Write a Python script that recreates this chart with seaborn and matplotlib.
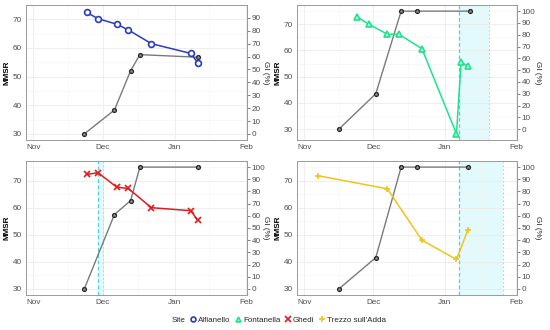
import numpy as np
import pandas as pd
import matplotlib
matplotlib.use("Agg")
import matplotlib.pyplot as plt
from matplotlib.lines import Line2D
import seaborn as sns

sns.set_theme(style="white")
plt.rcParams['font.family'] = ['Liberation Sans', 'DejaVu Sans']

# ---------------- data ----------------
sites = ["Alfianello", "Fontanella", "Ghedi", "Trezzo sull'Adda"]
colors = ["#2a3bc0", "#1ee38c", "#e41a1c", "#f0c419"]
markers = ["o", "^", "x", "+"]

alf_mmsr_dates = ["2019-11-24", "2019-11-29", "2019-12-07", "2019-12-12", "2019-12-22", "2020-01-08", "2020-01-11"]
alf_mmsr = [72.4, 70.2, 68.3, 66.3, 61.5, 58.1, 54.8]
alf_gi_dates = ["2019-11-23", "2019-12-06", "2019-12-13", "2019-12-17", "2020-01-11"]
alf_gi = [0, 18.5, 49, 61.5, 59.5]

fon_mmsr_dates = ["2019-11-24", "2019-11-29", "2019-12-07", "2019-12-12", "2019-12-22", "2020-01-06", "2020-01-08", "2020-01-11"]
fon_mmsr = [72.8, 70.0, 66.2, 66.2, 60.7, 28.2, 55.6, 54.0]
fon_gi_dates = ["2019-11-16", "2019-12-02", "2019-12-13", "2019-12-20", "2020-01-12"]
fon_gi = [0, 30, 100, 100, 100]

ghe_mmsr_dates = ["2019-11-24", "2019-11-29", "2019-12-07", "2019-12-12", "2019-12-22", "2020-01-08", "2020-01-11"]
ghe_mmsr = [72.3, 72.9, 67.6, 67.1, 60.0, 58.9, 55.3]
ghe_gi_dates = ["2019-11-23", "2019-12-06", "2019-12-13", "2019-12-17", "2020-01-11"]
ghe_gi = [0, 61, 72.5, 100, 100]

tre_mmsr_dates = ["2019-11-07", "2019-12-07", "2019-12-22", "2020-01-06", "2020-01-11"]
tre_mmsr = [71.8, 67.0, 48.0, 40.9, 51.9]
tre_gi_dates = ["2019-11-16", "2019-12-02", "2019-12-13", "2019-12-20", "2020-01-11"]
tre_gi = [0, 25.7, 100, 100, 100]

# shaded periods (start, end) per site
shade = [None, ("2020-01-07", "2020-01-20"), ("2019-11-29", "2019-12-01"), ("2020-01-07", "2020-01-26")]

mmsr_dates = [alf_mmsr_dates, fon_mmsr_dates, ghe_mmsr_dates, tre_mmsr_dates]
mmsr_vals = [alf_mmsr, fon_mmsr, ghe_mmsr, tre_mmsr]
gi_dates = [alf_gi_dates, fon_gi_dates, ghe_gi_dates, tre_gi_dates]
gi_vals = [alf_gi, fon_gi, ghe_gi, tre_gi]

x_ticks = ["2019-11-01", "2019-12-01", "2020-01-01", "2020-02-01"]
x_tick_labels = ["Nov", "Dec", "Jan", "Feb"]
gi_ticks = list(range(0, 101, 10))

def gi_to_mmsr(g):
    return 30 + np.asarray(g) * 45.0 / 100.0

def mmsr_to_gi(m):
    return (np.asarray(m) - 30) * 100.0 / 45.0

# ---------------- figure ----------------
W, H = 550, 330
fig = plt.figure(figsize=(5.5, 3.3), dpi=100)
boxes = [(26, 5, 247, 140), (297, 5, 517, 140), (26, 161, 247, 295), (297, 161, 517, 295)]

tick_color = "#4d4d4d"
xlim = (pd.Timestamp("2019-10-28 20:00"), pd.Timestamp("2020-02-01 06:00"))
fs = 5.9

for i in range(4):
    l, t, r, b = boxes[i]
    ax = fig.add_axes([l / W, 1 - b / H, (r - l) / W, (b - t) / H])
    ax.set_facecolor("white")

    # shaded period
    if shade[i] is not None:
        s0, s1 = pd.Timestamp(shade[i][0]), pd.Timestamp(shade[i][1])
        ax.axvspan(s0, s1, color="#e3fafd", zorder=0, lw=0)
        ax.axvline(s0, color="#4dd0e1", ls=(0, (3, 2)), lw=0.9, zorder=1)
        ax.axvline(s1, color="#9be4ee", ls=(0, (2, 2)), lw=0.7, zorder=1)

    # GI series (gray)
    dfg = pd.DataFrame({"date": pd.to_datetime(gi_dates[i]), "y": gi_to_mmsr(gi_vals[i])})
    sns.lineplot(data=dfg, x="date", y="y", ax=ax, color="#7a7a7a", lw=1.0, zorder=3)
    ax.scatter(dfg["date"], dfg["y"], s=14, color="#222222", zorder=4, lw=0)
    ax.scatter(dfg["date"], dfg["y"], s=10, marker="*", color="#9a9a9a", zorder=5, lw=0)

    # MMSR series (colored)
    dfm = pd.DataFrame({"date": pd.to_datetime(mmsr_dates[i]), "y": mmsr_vals[i]})
    sns.lineplot(data=dfm, x="date", y="y", ax=ax, color=colors[i], lw=1.1, zorder=6)
    if markers[i] in ("o", "^"):
        ax.plot(dfm["date"], dfm["y"], ls="none", marker=markers[i], ms=4.2,
                mfc="white" if markers[i] == "o" else "#bdf5dc", mec=colors[i], mew=1.2, zorder=7)
    else:
        ax.plot(dfm["date"], dfm["y"], ls="none", marker=markers[i], ms=5, mec=colors[i], mew=1.2, zorder=7)

    # y limits (ggplot-style expansion)
    allv = list(mmsr_vals[i]) + list(gi_to_mmsr(gi_vals[i]))
    lo, hi = min(allv), max(allv)
    pad = (hi - lo) * 0.05
    ax.set_ylim(lo - pad, hi + pad)
    ax.set_xlim(*xlim)

    ax.set_xticks(pd.to_datetime(x_ticks))
    ax.set_xticklabels(x_tick_labels)
    ax.set_xticks(pd.to_datetime(["2019-11-16", "2019-12-16", "2020-01-16"]), minor=True)
    ax.set_yticks([30, 40, 50, 60, 70])
    ax.set_yticks([35, 45, 55, 65, 75], minor=True)
    ax.grid(which="major", color="#ebebeb", lw=0.6, zorder=0)
    ax.grid(which="minor", color="#f3f3f3", lw=0.4, zorder=0)
    ax.set_axisbelow(True)

    ax.tick_params(axis="both", which="major", labelsize=fs, colors=tick_color, length=2, width=0.5, pad=1.2)
    ax.tick_params(axis="both", which="minor", length=0)
    ax.set_xlabel("")
    ax.set_ylabel("")

    for sp in ax.spines.values():
        sp.set_color("#9a9a9a")
        sp.set_linewidth(0.7)

    sec = ax.secondary_yaxis("right", functions=(mmsr_to_gi, gi_to_mmsr))
    sec.set_yticks([g for g in gi_ticks if gi_to_mmsr(g) <= hi + pad])
    sec.tick_params(labelsize=fs, colors=tick_color, length=2, width=0.5, pad=1.2)
    sec.spines["right"].set_color("#9a9a9a")
    sec.spines["right"].set_linewidth(0.7)

    yc = 1 - (t + b) / 2 / H
    mmsr_x = 7 if l < 100 else 278
    gi_x = 266 if l < 100 else 538
    fig.text(mmsr_x / W, yc, "MMSR", rotation=90, ha="center", va="center",
             fontsize=fs, fontweight="bold", color="black")
    fig.text(gi_x / W, yc, "GI (%)", rotation=270, ha="center", va="center",
             fontsize=fs, color="#222222")

# legend
handles = [Line2D([], [], ls="none", marker="", label="Site")]
for c, m, s in zip(colors, markers, sites):
    if m == "o":
        h = Line2D([], [], ls="none", marker=m, ms=3.5, mfc="white", mec=c, mew=1.2, label=s)
    elif m == "^":
        h = Line2D([], [], ls="none", marker=m, ms=3.5, mfc="#bdf5dc", mec=c, mew=1.2, label=s)
    else:
        h = Line2D([], [], ls="none", marker=m, ms=4.5, mec=c, mew=1.2, label=s)
    handles.append(h)
fig.legend(handles=handles, loc="center", bbox_to_anchor=(275 / W, 1 - 320 / H), ncol=5,
           frameon=False, fontsize=5.8, handlelength=0.7, handletextpad=0.25, columnspacing=0.6,
           borderpad=0.1)

fig.savefig("out.png", dpi=100)
